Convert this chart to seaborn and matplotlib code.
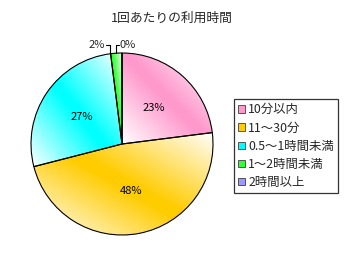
import numpy as np
import matplotlib
matplotlib.use("Agg")
import matplotlib.pyplot as plt
import matplotlib.colors as mcolors
from matplotlib.patches import Patch
import seaborn as sns

# ---- data ----
categories = ["10分以内", "11～30分", "0.5～1時間未満", "1～2時間未満", "2時間以上"]
values = [23, 48, 27, 2, 0]
colors = ["#FF99CC", "#FFCC00", "#00FFFF", "#33FF33", "#9999FF"]
title = "1回あたりの利用時間"

sns.set_style("white")
plt.rcParams["font.family"] = ["Noto Sans CJK JP", "DejaVu Sans"]

W, H = 347, 259
fig = plt.figure(figsize=(W / 100, H / 100), dpi=100)
fig.patch.set_facecolor("white")

cx, cy, r = 122, 144, 91
ax = fig.add_axes([(cx - r) / W, (H - cy - r) / H, 2 * r / W, 2 * r / H])

def pct(p):
    return f"{p:.0f}%" if p >= 5 else ""

wedges, texts, autotexts = ax.pie(
    values, startangle=90, counterclock=False, colors=colors,
    autopct=pct, pctdistance=0.53,
    wedgeprops=dict(edgecolor="black", linewidth=0.8),
    textprops=dict(fontsize=8, color="black"),
)
ax.set_xlim(-1, 1)
ax.set_ylim(-1, 1)
ax.set_aspect("equal")
ax.axis("off")

# gradient fill inside each wedge
for w, col in zip(wedges, colors):
    if w.theta2 - w.theta1 <= 0:
        continue
    th = np.radians(np.linspace(w.theta1, w.theta2, 100))
    xs = np.concatenate([[0], np.cos(th)])
    ys = np.concatenate([[0], np.sin(th)])
    x0, x1, y0, y1 = xs.min(), xs.max(), ys.min(), ys.max()
    gx, gy = np.meshgrid(np.linspace(0, 1, 200), np.linspace(0, 1, 200))
    t = (gx + gy) / 2.0
    f = 1 - np.abs(2 * t - 1)
    f = np.clip(f * 1.05, 0, 1)
    base = np.array(mcolors.to_rgb(col))
    img = 1 - f[..., None] * (1 - base[None, None, :])
    w.set_facecolor("none")
    im = ax.imshow(img, extent=(x0, x1, y0, y1), origin="lower",
                   interpolation="bilinear", zorder=w.get_zorder() - 0.1)
    im.set_clip_path(w)

for t_ in autotexts:
    t_.set_family(["Noto Sans CJK JP", "DejaVu Sans"])

# small-slice labels with leader lines
def px(xp, yp):
    return (xp - cx) / r, (cy - yp) / r

p1, p2, p3 = px(106, 45), px(109.5, 45), px(109.5, 53)
ax.plot([p1[0], p2[0], p3[0]], [p1[1], p2[1], p3[1]], color="black", lw=0.8, clip_on=False)
ax.text(p1[0] - 0.01, p1[1], f"{values[3]}%", ha="right", va="center", fontsize=8)
q1, q2, q3 = px(116, 53), px(116, 45), px(119, 45)
ax.plot([q1[0], q2[0], q3[0]], [q1[1], q2[1], q3[1]], color="black", lw=0.8, clip_on=False)
ax.text(q3[0] + 0.01, q3[1], f"{values[4]}%", ha="left", va="center", fontsize=8)

fig.text(172 / W, 1 - 18 / H, title, ha="center", va="center", fontsize=9.2)

handles = [Patch(facecolor=c, edgecolor="#404040", linewidth=0.6) for c in colors]
leg = fig.legend(handles, categories, loc="upper left",
                 bbox_to_anchor=(234 / W, 1 - 99 / H), borderaxespad=0,
                 fontsize=8.9, frameon=True, fancybox=False, shadow=False,
                 handlelength=0.55, handleheight=0.55, handletextpad=0.25,
                 labelspacing=0.42, borderpad=0.35)
leg.get_frame().set_edgecolor("black")
leg.get_frame().set_linewidth(0.9)

fig.savefig("out.png", dpi=100, facecolor="white")
